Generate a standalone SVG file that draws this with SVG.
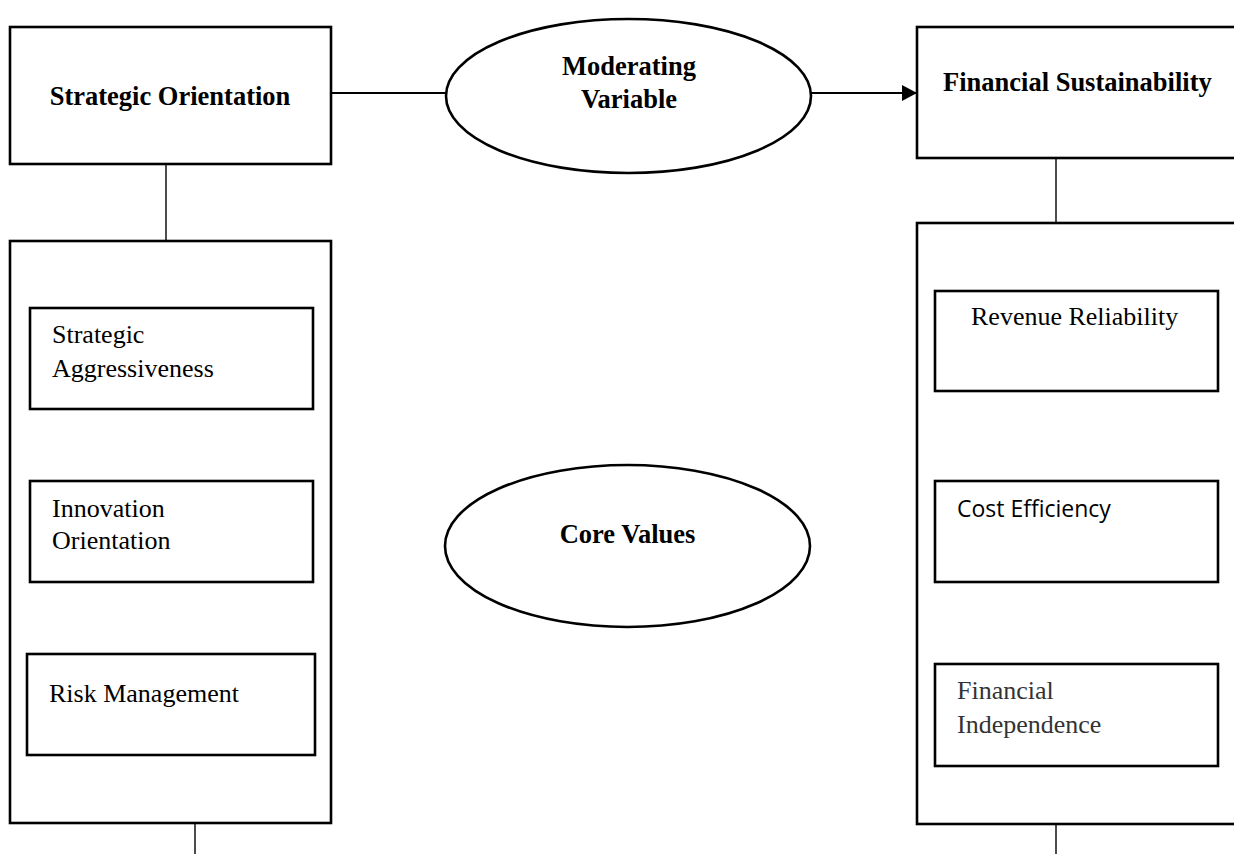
<svg xmlns="http://www.w3.org/2000/svg" width="1234" height="854" viewBox="0 0 1234 854">
<style>
.box{fill:#fff;stroke:#000;stroke-width:2.6}
.ell{fill:#fff;stroke:#000;stroke-width:2.6}
.inner{fill:none;stroke:#000;stroke-width:2.6}
.thin{stroke:#000;stroke-width:1.4;fill:none}
.conn{stroke:#000;stroke-width:2;fill:none}
.tb{font-family:"Liberation Serif","Times New Roman",serif;font-weight:bold;font-size:26.5px;fill:#000}
.tr{font-family:"Liberation Serif","Times New Roman",serif;font-size:26px;fill:#000}
.tg{font-family:"Liberation Serif","Times New Roman",serif;font-size:26px;fill:#333}
.ts{font-family:"Open Sans","Noto Sans",sans-serif;font-size:23px;fill:#000}
</style>
<defs>
<marker id="arr" markerWidth="15" markerHeight="16" refX="15" refY="8" orient="auto" markerUnits="userSpaceOnUse">
<path d="M0,0 L15,8 L0,16 Z" fill="#000"/>
</marker>
</defs>
<rect width="1234" height="854" fill="#fff"/>
<g id="connectors">
<line class="conn" x1="331" y1="93" x2="446" y2="93"/>
<line class="conn" x1="811" y1="93" x2="917" y2="93" marker-end="url(#arr)"/>
<line class="thin" x1="166" y1="164" x2="166" y2="241"/>
<line class="thin" x1="1056" y1="158" x2="1056" y2="223"/>
<line class="thin" x1="195" y1="823" x2="195" y2="854"/>
<line class="thin" x1="1056" y1="824" x2="1056" y2="854"/>
</g>
<g id="strategic-orientation">
<rect class="box" x="10" y="27" width="321" height="137"/>
<text class="tb" x="170" y="105" text-anchor="middle">Strategic Orientation</text>
</g>
<g id="moderating-variable">
<ellipse class="ell" cx="628.5" cy="96" rx="182.5" ry="77"/>
<text class="tb" x="629" y="75" text-anchor="middle">Moderating</text>
<text class="tb" x="629" y="108" text-anchor="middle">Variable</text>
</g>
<g id="financial-sustainability">
<rect class="box" x="917" y="27" width="330" height="131"/>
<text class="tb" x="943" y="91">Financial Sustainability</text>
</g>
<g id="so-dimensions">
<rect class="box" x="10" y="241" width="321" height="582"/>
</g>
<g id="strategic-aggressiveness">
<rect class="inner" x="30" y="308" width="283" height="101"/>
<text class="tr" x="52" y="343">Strategic</text>
<text class="tr" x="52" y="377">Aggressiveness</text>
</g>
<g id="innovation-orientation">
<rect class="inner" x="30" y="481" width="283" height="101"/>
<text class="tr" x="52" y="517">Innovation</text>
<text class="tr" x="52" y="549">Orientation</text>
</g>
<g id="risk-management">
<rect class="inner" x="27" y="654" width="288" height="101"/>
<text class="tr" x="49" y="702">Risk Management</text>
</g>
<g id="core-values">
<ellipse class="ell" cx="627.5" cy="546" rx="182.5" ry="81"/>
<text class="tb" x="627.5" y="543" text-anchor="middle">Core Values</text>
</g>
<g id="fs-dimensions">
<rect class="box" x="917" y="223" width="330" height="601"/>
</g>
<g id="revenue-reliability">
<rect class="inner" x="935" y="291" width="283" height="100"/>
<text class="tr" x="971" y="325">Revenue Reliability</text>
</g>
<g id="cost-efficiency">
<rect class="inner" x="935" y="481" width="283" height="101"/>
<text class="ts" x="957" y="517">Cost Efficiency</text>
</g>
<g id="financial-independence">
<rect class="inner" x="935" y="664" width="283" height="102"/>
<text class="tg" x="957" y="699">Financial</text>
<text class="tg" x="957" y="733">Independence</text>
</g>
</svg>
